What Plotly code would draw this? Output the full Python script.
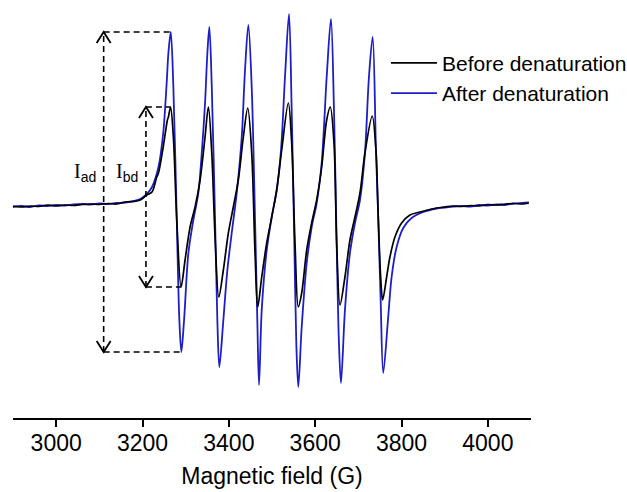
import plotly.graph_objects as go

# Magnetic field (G) and EPR signal (a.u.)
field_after = [2900, 2920, 2940, 2960, 2980, 3000, 3020, 3040, 3060, 3080, 3100, 3120, 3140, 3160, 3180, 3195,
               3210, 3222, 3237, 3248, 3256, 3260, 3265.5,
               3271.5, 3279.4, 3285.4, 3290,
               3296.3, 3306.3, 3317.8, 3329.4, 3337.3, 3344.9, 3350.3, 3354.9,
               3360.5, 3368.1, 3373.4, 3378,
               3387.3, 3396.6, 3406.7, 3418.3, 3429.9, 3437.5, 3445.2,
               3453, 3460.7, 3466, 3469.9,
               3476.2, 3487.8, 3499.4, 3510.9, 3520.9, 3530.1, 3539.4,
               3545.6, 3551.7, 3556.3, 3560.9,
               3568.8, 3580.4, 3591.9, 3603.5, 3615.1, 3626.7, 3636.6,
               3643.6, 3649.8, 3655.1, 3659.8,
               3669, 3680.6, 3692.2, 3703.8, 3715.3, 3724.6, 3733.2,
               3740.8, 3746.1, 3751.7, 3757.7,
               3769.2, 3777.1, 3788.7, 3804, 3823.4, 3850.3, 3881.3,
               3900, 3920, 3940, 3960, 3980, 4000, 4020, 4040, 4060, 4080, 4095]
signal_after = [0, 1, 0, 1.5, 1, 2, 1.5, 2.5, 3, 2.5, 3.5, 3, 4, 4.5, 6, 8,
                13, 20, 40, 74, 124, 154, 175,
                120, -13, -113, -145,
                -113, -46, -13, 14, 54, 104, 154, 180,
                120, -13, -113, -160,
                -113, -63, -26, 14, 70, 137, 182,
                120, -13, -113, -178,
                -103, -43, -10, 17, 57, 130, 193,
                97, -36, -136, -180,
                -120, -56, -20, 4, 44, 130, 188,
                97, -36, -136, -176,
                -103, -46, -16, 7, 54, 130, 170,
                57, -10, -93, -166,
                -110, -70, -40, -21, -11, -5, -1.5,
                -0.5, 0.5, 1, 0.5, 2, 1.5, 2.5, 2, 3.5, 4, 4.5]

field_before = [2900, 2920, 2940, 2960, 2980, 3000, 3020, 3040, 3060, 3080, 3100, 3120, 3140, 3160, 3180, 3195,
                3210, 3222, 3233, 3237, 3248, 3257.7, 3260, 3265,
                3271.5, 3279.4, 3289.4,
                3298.6, 3310.2, 3321.8, 3333.4, 3344.9, 3352.6,
                3360.5, 3368.1, 3376.7,
                3387.3, 3398.9, 3410.4, 3422, 3433.6, 3443.8,
                3453, 3460.7, 3466.9,
                3476.2, 3487.8, 3499.4, 3510.9, 3522.5, 3537.8,
                3545.6, 3553.3, 3560.9,
                3568.8, 3580.4, 3591.9, 3603.5, 3615.1, 3626.7, 3635,
                3643.6, 3649.8, 3657.5,
                3669, 3680.6, 3692.2, 3703.8, 3715.3, 3732.2,
                3740.8, 3746.1, 3751.7, 3756.3,
                3765.6, 3773.2, 3784.8, 3800.3, 3819.5, 3842.7, 3881.3,
                3900, 3920, 3940, 3960, 3980, 4000, 4020, 4040, 4060, 4080, 4095]
signal_before = [1, 0, 1, 0.5, 2, 1, 2, 1.5, 2.5, 3, 2.5, 3.5, 3, 5, 5.5, 7,
                 12, 15, 30, 34, 60, 87, 90, 100,
                 70, -13, -80,
                 -53, -20, 0, 27, 70, 100,
                 54, -30, -90,
                 -63, -26, 0, 27, 70, 99,
                 54, -46, -100,
                 -70, -36, -10, 17, 57, 104,
                 64, -36, -100,
                 -86, -43, -16, 7, 40, 87, 100,
                 64, -36, -98,
                 -70, -33, -10, 14, 54, 91,
                 57, -10, -70, -93,
                 -70, -50, -30, -16, -8, -5, -1,
                 0, 1, 0.5, 1.5, 1, 2.5, 2, 3, 3.5, 3, 4]

tick_values = [3000, 3200, 3400, 3600, 3800, 4000]
tick_labels = ["3000", "3200", "3400", "3600", "3800", "4000"]

series_names = ["Before denaturation", "After denaturation"]
arrow_ad_x = 3110
arrow_bd_x = 3208

BLUE = "#1e1ec8"
FONT = "Liberation Sans, Arial, sans-serif"

fig = go.Figure()
fig.add_trace(go.Scatter(x=field_after, y=signal_after, mode="lines", name=series_names[1],
                         line=dict(color=BLUE, width=1.8, shape="spline", smoothing=0.9)))
fig.add_trace(go.Scatter(x=field_before, y=signal_before, mode="lines", name=series_names[0],
                         line=dict(color="black", width=1.7, shape="spline", smoothing=0.9)))

# first-line peak/trough values for the intensity markers
def first_line(xs, ys, lo, hi):
    pts = [(x, y) for x, y in zip(xs, ys) if lo <= x <= hi]
    pk = max(pts, key=lambda p: p[1])
    tr = min(pts, key=lambda p: p[1])
    return pk, tr

pk_a, tr_a = first_line(field_after, signal_after, 3240, 3300)
pk_b, tr_b = first_line(field_before, signal_before, 3240, 3300)

dash = dict(color="black", width=1.6, dash="6px,4px")
shapes = []
# I_ad
shapes.append(dict(type="line", xref="x", yref="y", x0=arrow_ad_x, x1=arrow_ad_x, y0=tr_a[1], y1=pk_a[1], line=dash))
shapes.append(dict(type="line", xref="x", yref="y", x0=arrow_ad_x, x1=pk_a[0], y0=pk_a[1], y1=pk_a[1], line=dash))
shapes.append(dict(type="line", xref="x", yref="y", x0=arrow_ad_x, x1=tr_a[0], y0=tr_a[1], y1=tr_a[1], line=dash))
# I_bd
shapes.append(dict(type="line", xref="x", yref="y", x0=arrow_bd_x, x1=arrow_bd_x, y0=tr_b[1], y1=pk_b[1], line=dash))
shapes.append(dict(type="line", xref="x", yref="y", x0=arrow_bd_x, x1=pk_b[0], y0=pk_b[1], y1=pk_b[1], line=dash))
shapes.append(dict(type="line", xref="x", yref="y", x0=arrow_bd_x, x1=tr_b[0], y0=tr_b[1], y1=tr_b[1], line=dash))
# open arrow heads
for ax, top, bot in [(arrow_ad_x, pk_a[1], tr_a[1]), (arrow_bd_x, pk_b[1], tr_b[1])]:
    shapes.append(dict(type="path", xref="x", yref="y", xsizemode="pixel", ysizemode="pixel",
                       xanchor=ax, yanchor=top, path="M-7,-11 L0,0 L7,-11",
                       line=dict(color="black", width=1.8)))
    shapes.append(dict(type="path", xref="x", yref="y", xsizemode="pixel", ysizemode="pixel",
                       xanchor=ax, yanchor=bot, path="M-7,11 L0,0 L7,11",
                       line=dict(color="black", width=1.8)))

serif_I = "<span style='font-family:Liberation Serif, Times New Roman, serif'>I</span>"
annotations = [
    dict(x=3067, y=35, xref="x", yref="y", text=serif_I + "<sub>ad</sub>", showarrow=False,
         font=dict(family=FONT, size=20, color="black")),
    dict(x=3164, y=35, xref="x", yref="y", text=serif_I + "<sub>bd</sub>", showarrow=False,
         font=dict(family=FONT, size=20, color="black")),
]

fig.update_layout(
    width=627, height=492,
    margin=dict(l=13, r=96, t=10, b=74, autoexpand=False),
    paper_bgcolor="white", plot_bgcolor="white",
    shapes=shapes, annotations=annotations,
    showlegend=True,
    legend=dict(x=0.72, y=0.92, xanchor="left", yanchor="top", traceorder="reversed",
                font=dict(family=FONT, size=21, color="black"), bgcolor="rgba(0,0,0,0)",
                itemwidth=46, tracegroupgap=0),
    xaxis=dict(range=[2900, 4100], tickvals=tick_values, ticktext=tick_labels, automargin=False,
               showline=True, linecolor="black", linewidth=1.5, ticks="outside", ticklen=7,
               tickwidth=1.5, tickcolor="black", showgrid=False, zeroline=False,
               ticklabelstandoff=-3,
               tickfont=dict(family=FONT, size=23, color="black"),
               title=dict(text="Magnetic field (G)", font=dict(family=FONT, size=23, color="black"),
                          standoff=13)),
    yaxis=dict(range=[-211, 197], visible=False, showgrid=False, zeroline=False),
)

# remove the browser's default 8px body margin so the figure fills the window exactly
fig.write_html("out.html", config={"displayModeBar": False},
               post_script="document.body.style.margin='0px';document.body.style.overflow='hidden';")
